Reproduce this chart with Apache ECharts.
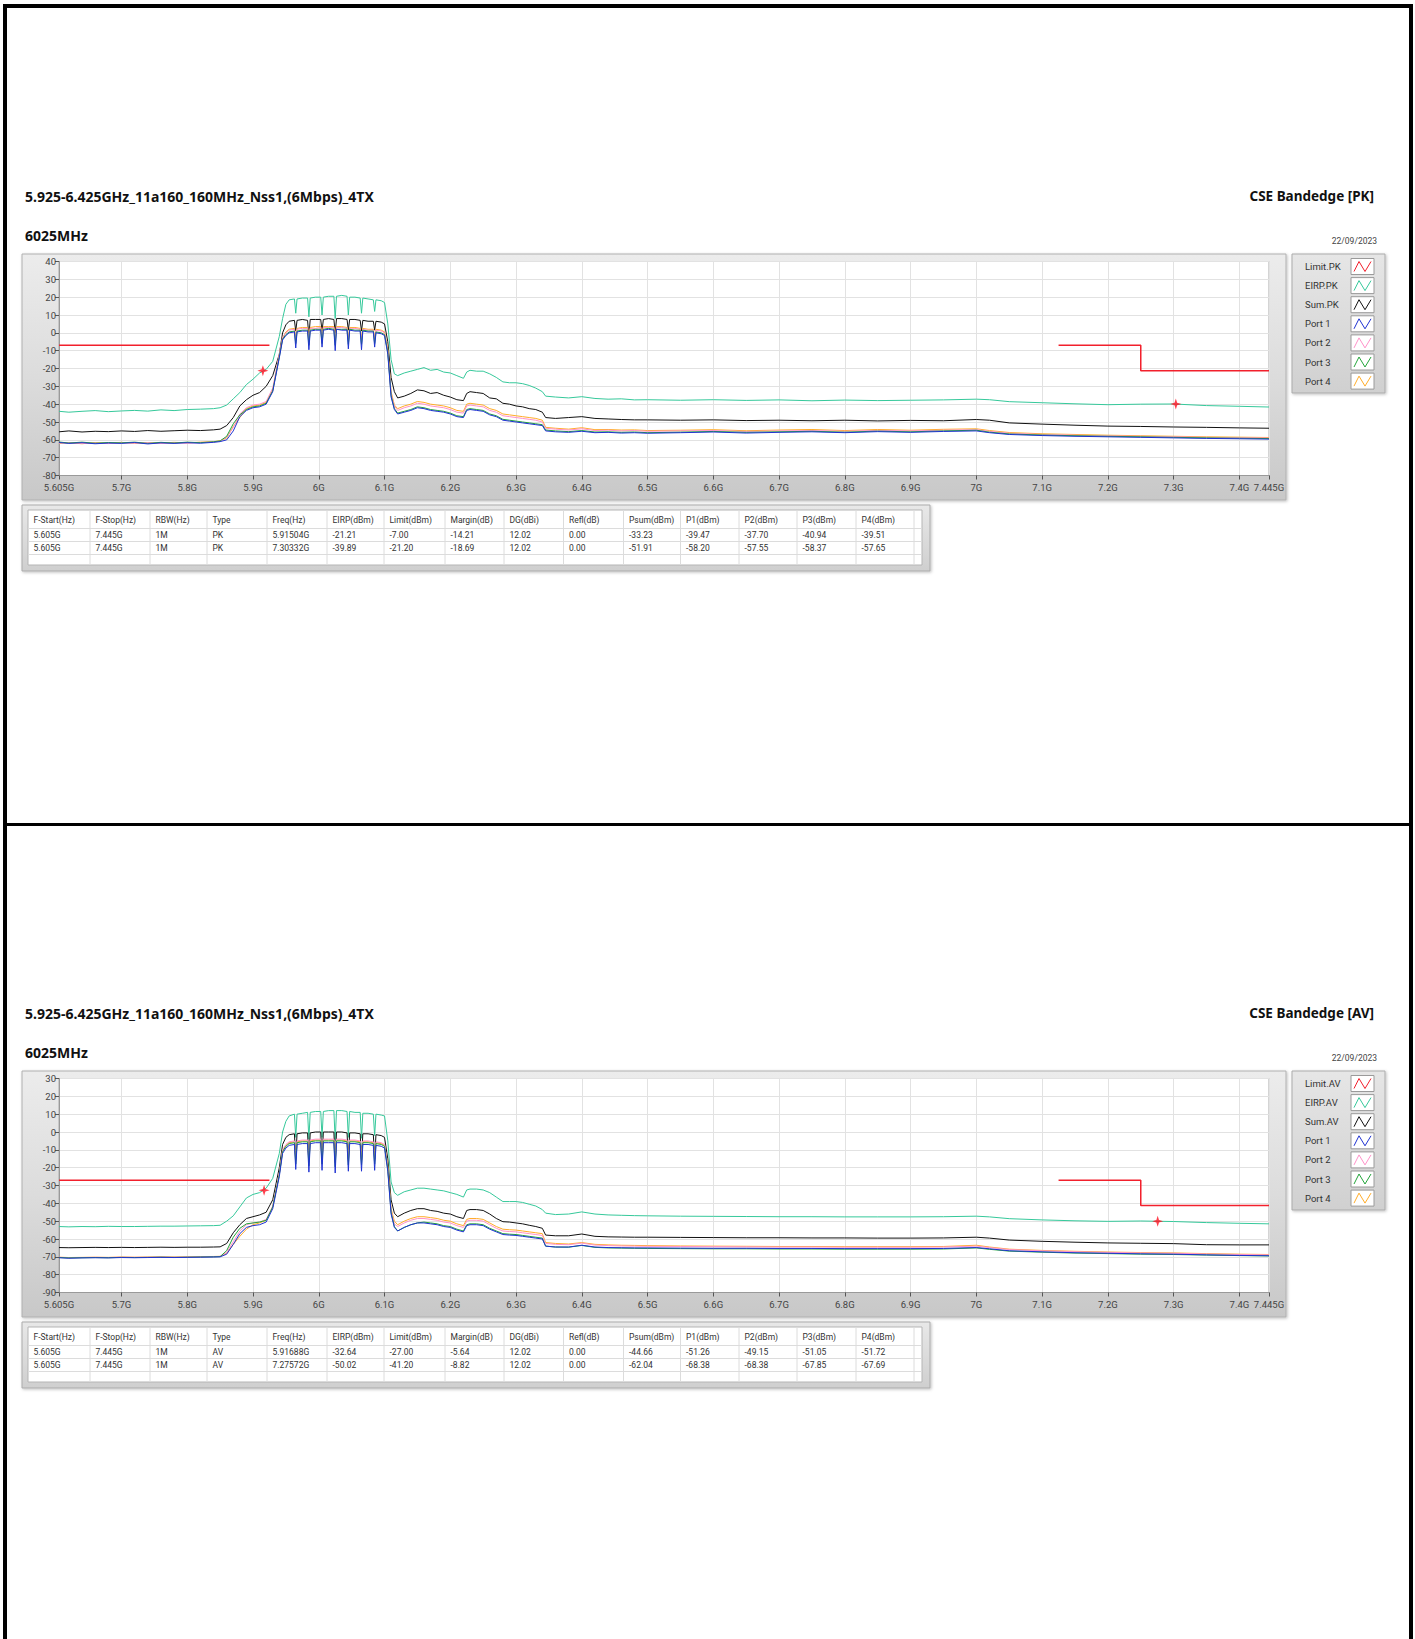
<!DOCTYPE html>
<html>
<head>
<meta charset="utf-8">
<title>CSE Bandedge</title>
<script src="https://cdn.jsdelivr.net/npm/echarts@6/dist/echarts.min.js"></script>
<style>
  html, body { margin: 0; padding: 0; background: #fff; }
  #main { width: 1415px; height: 1639px; }
</style>
</head>
<body>
<div id="main"></div>
<script>
// frequency grid (GHz), shared by every trace
var freq = [
  5.605, 5.62, 5.64, 5.66, 5.68, 5.70, 5.72, 5.74, 5.76, 5.78, 5.80, 5.82, 5.84, 5.85,
  5.86, 5.87, 5.88, 5.89, 5.90, 5.91, 5.92, 5.93, 5.94, 5.945,
  5.95, 5.955, 5.963, 5.965, 5.967, 5.975, 5.983, 5.985, 5.987, 5.995, 6.003, 6.005, 6.007, 6.015, 6.023, 6.025,
  6.027, 6.035, 6.043, 6.045, 6.047, 6.055, 6.063, 6.065, 6.067, 6.075, 6.083, 6.085, 6.087, 6.095, 6.10,
  6.105, 6.11, 6.115, 6.12,
  6.13, 6.14, 6.15, 6.16, 6.17, 6.18, 6.19, 6.20, 6.21, 6.22, 6.225, 6.23, 6.24, 6.25, 6.26, 6.27,
  6.28, 6.29, 6.30, 6.31, 6.32, 6.33, 6.34, 6.345, 6.36, 6.38, 6.40, 6.42, 6.44, 6.46, 6.48, 6.50,
  6.55, 6.60, 6.65, 6.70, 6.75, 6.80, 6.85, 6.90, 6.95, 7.00, 7.02, 7.05, 7.10, 7.15, 7.20, 7.25, 7.30, 7.35, 7.40, 7.445
];

// ---- PK panel (dBm) ----
var eirpPk = [
  -44, -44.5, -44, -43.6, -44.2, -43.8, -43.5, -43.9, -43.2, -43.6, -43, -42.8, -42.5, -42,
  -40.5, -37, -33.5, -29, -26, -22.5, -20.5, -16, -2, 8,
  16, 18.5, 19, 11, 19, 19.5, 19.5, 9, 19.5, 20, 20, 10, 20, 20.5, 20.5, 8,
  20.5, 21, 20.5, 10, 20, 20, 19.5, 11, 19.5, 19, 18.5, 12, 18.5, 18, 17,
  5, -15, -23, -24,
  -22.5, -21.5, -20.5, -19.5, -21, -20.5, -22, -22.5, -24, -25.5, -22, -21, -21.5, -21.5, -23, -25,
  -27.5, -28, -28, -28.5, -29.5, -31, -33, -35.5, -36, -36.5, -35.8, -36.8, -37.2, -37, -37.6, -37.5,
  -37.8, -37.5, -37.9, -37.6, -38.1, -37.7, -38, -37.8, -37.6, -37.2, -37.5, -38.6, -39.2, -39.8, -40.3, -40, -39.9, -40.8, -41.2, -41.6
];
var sumPk = [
  -55.5, -55, -55.6, -55.2, -55.4, -55, -55.3, -54.8, -55.2, -54.9, -54.6, -54.8, -54.4, -54,
  -52, -47.5, -41, -37.5, -35, -33.5, -30, -24, -12, 0,
  4.5, 6.5, 7, 1, 7, 7.5, 7, -2, 7.5, 7.5, 7.5, 1, 7.5, 8, 7.5, 0,
  8, 8, 7.5, 1.5, 7.5, 7.5, 7, 1, 7, 6.5, 6.5, 1.5, 6.5, 6, 5,
  -5, -25, -33, -36.5,
  -35.5, -34, -32, -32.5, -34, -33.5, -35, -36, -37.5, -38, -34, -33, -33.5, -34, -36.5, -37,
  -39.5, -40, -41, -41.5, -42.5, -43, -44.5, -47.5, -48, -47.5, -47, -48, -48.3, -48.6, -48.8, -48.8,
  -49, -48.8, -49.2, -49, -49.3, -49, -49.4, -49.1, -49.3, -48.6, -49, -50.5, -51.2, -51.8, -52.3, -52.5, -52.8, -53, -53.3, -53.5
];
var port1Pk = [
  -61.5, -62, -61.6, -62.2, -61.8, -62, -61.5, -62.3, -61.7, -62, -61.6, -61.9, -61.4, -61,
  -60, -55, -47, -43.5, -42, -41.5, -40, -33, -14, -4,
  -1.5, 0, 0.5, -8.5, 0.5, 1, 1, -9.5, 1, 1.5, 1.5, -8, 1.5, 2, 1.5, -10,
  2, 1.5, 1.5, -9, 1.5, 1, 1, -9.5, 1, 0.5, 0.5, -8, 0, -0.5, -1.5,
  -12, -36, -43, -45.5,
  -44.5, -43.5, -42, -42.5, -43.5, -44, -44.5, -45.5, -47, -47.5, -43.5, -43, -43.5, -44, -46, -47,
  -49, -49.5, -50, -50.5, -51, -51.5, -52, -55, -55.5, -55.8, -55.2, -56, -55.8, -56.2, -56, -56.3,
  -56, -55.6, -56.2, -55.8, -55.5, -56, -55.4, -55.8, -55.3, -55, -56, -57, -57.6, -58, -58.3, -58.6, -58.9, -59.2, -59.4, -59.6
];
var port2Pk = [
  -61.8, -61.5, -62, -61.7, -62.1, -61.6, -61.9, -61.5, -62, -61.7, -61.9, -61.5, -61.2, -60.8,
  -58.5, -53, -45.5, -42, -40.5, -40, -38.5, -31, -12, -2.5,
  0, 1.5, 2, -4, 2, 2.5, 2.5, -5, 2.5, 2.5, 3, -4, 3, 3, 3, -5,
  3, 3, 2.5, -4.5, 2.5, 2.5, 2, -4, 2, 1.5, 1.5, -3.5, 1.5, 1, 0,
  -10, -34, -41, -43.5,
  -42, -41, -39.5, -40, -41, -41.5, -42, -43, -44.5, -45, -41, -40.5, -41, -41.5, -43.5, -44.5,
  -46.5, -47, -47.5, -48, -48.5, -49, -50, -53.5, -54, -54.5, -53.8, -54.8, -54.6, -55, -54.8, -55.2,
  -55, -54.8, -55.3, -55, -54.8, -55.2, -54.7, -55, -54.6, -54.3, -55.2, -56.3, -57, -57.4, -57.8, -58, -58.3, -58.6, -58.8, -59
];
var port3Pk = [
  -61.2, -61.8, -61.3, -61.9, -61.5, -61.7, -61.3, -62, -61.4, -61.8, -61.3, -61.6, -61.1, -60.6,
  -58, -51, -46, -43, -41.5, -41, -39.5, -32.5, -13.5, -3.5,
  -1, 0.5, 1, -6, 1, 1.5, 1.5, -7, 1.5, 2, 2, -6, 2, 2.5, 2, -7,
  2, 2, 2, -6.5, 2, 1.5, 1.5, -6.5, 1.5, 1, 1, -6, 0.5, 0, -1,
  -11, -35, -42.5, -45,
  -44, -43, -41.5, -42, -43, -43.5, -44, -45, -46.5, -47, -43, -42.5, -43, -43.5, -45.5, -46.5,
  -48.5, -49, -49.5, -50, -50.5, -51, -51.5, -54.5, -55, -55.4, -54.8, -55.6, -55.5, -55.8, -55.6, -56,
  -55.7, -55.3, -55.8, -55.5, -55.2, -55.7, -55.1, -55.5, -55, -54.6, -55.7, -56.7, -57.3, -57.7, -58, -58.3, -58.6, -58.9, -59.1, -59.3
];
var port4Pk = [
  -62, -61.6, -62.2, -61.5, -61.9, -61.4, -62, -61.6, -61.8, -61.4, -61.7, -61.3, -61, -60.5,
  -59, -52.5, -47.5, -42.5, -41, -40.5, -39, -32, -12.5, -3,
  0.5, 2, 2.5, -3, 2.5, 3, 3, -4, 3, 3.5, 3.5, -3, 3.5, 3.5, 3.5, -4,
  3.5, 3.5, 3, -3.5, 3, 3, 2.5, -3, 2.5, 2, 2, -3, 2, 1.5, 0.5,
  -9, -33, -40.5, -42.5,
  -41, -40, -38.5, -39, -40, -40.5, -41, -42, -43.5, -44, -40, -39.5, -40, -40.5, -42.5, -43.5,
  -45.5, -46, -46.5, -47, -47.5, -48, -49, -53, -53.5, -54, -53.2, -54.3, -54.2, -54.5, -54.4, -54.8,
  -54.6, -54.3, -54.9, -54.5, -54.2, -54.8, -54.2, -54.6, -54.1, -53.8, -54.8, -55.9, -56.6, -57, -57.4, -57.7, -58, -58.3, -58.5, -58.7
];

// ---- AV panel (dBm) ----
var eirpAv = [
  -53, -53.2, -53, -53.1, -52.9, -53, -53, -52.9, -52.8, -52.8, -52.7, -52.6, -52.5, -52.3,
  -50, -47, -42, -37, -35, -34, -31.5, -26, -12, 0,
  6, 9, 10, -3, 10, 10.5, 11, -4, 11, 11.5, 11.5, -3, 11.5, 12, 12, -5,
  12, 12, 11.5, -3, 11.5, 11, 11, -3.5, 10.5, 10.5, 10, -2, 10, 9.5, 9,
  -5, -28, -34, -35.5,
  -33.5, -32.5, -31.5, -31.5, -32, -32.5, -33, -34, -35, -36.5, -32.5, -32, -32, -32.5, -34, -36.5,
  -39, -39, -39, -39.5, -40.5, -41.5, -43.5, -45.5, -46.3, -46, -44.8, -46, -46.5, -46.7, -46.9, -47,
  -47.2, -47.3, -47.4, -47.5, -47.5, -47.6, -47.6, -47.6, -47.5, -47.2, -47.6, -48.6, -49.3, -49.8, -50.1, -49.9, -50.2, -50.8, -51.2, -51.5
];
var sumAv = [
  -64.8, -64.9, -64.8, -64.7, -64.8, -64.7, -64.8, -64.7, -64.6, -64.7, -64.6, -64.6, -64.5, -64.4,
  -62.5, -56.5, -52, -48.5, -47.5, -46.5, -45, -38, -20, -7,
  -3, -1.5, -1, -15, -1, -0.5, -0.5, -16, -0.5, 0, 0, -15, 0, 0, 0, -17,
  0, 0, -0.5, -15, -0.5, -0.5, -1, -16, -1, -1, -1.5, -15, -1.5, -2, -3,
  -15, -38, -45.5, -47.5,
  -45.5, -44, -43, -43, -44, -44.5, -45.5, -46, -47.5, -48.5, -44, -43.5, -43.5, -44, -46, -48.5,
  -50.3, -50.5, -51, -51.5, -52.3, -53, -54, -57.8, -58.2, -58.2, -57.2, -58.5, -58.8, -58.9, -59, -59,
  -59.1, -59.2, -59.3, -59.3, -59.4, -59.4, -59.5, -59.5, -59.4, -59, -59.5, -60.6, -61.3, -61.8, -62.2, -62.4, -62.6, -63.2, -63.3, -63.3
];
var port1Av = [
  -70.5, -70.8, -70.6, -70.5, -70.6, -70.4, -70.5, -70.4, -70.3, -70.4, -70.3, -70.2, -70.1, -70,
  -68.5, -63, -57, -53.5, -52.5, -52, -50.5, -43, -25, -12,
  -9, -7.5, -7, -21, -7, -6.5, -6.5, -22.5, -6.5, -6, -6, -21.5, -6, -6, -6, -23,
  -6, -6, -6.5, -22, -6.5, -6.5, -7, -22, -7, -7, -7.5, -21.5, -7.5, -8, -9,
  -22, -46, -53.5, -55.5,
  -53.5, -52, -51, -51, -51.5, -52, -53, -53.5, -55, -56, -52.5, -52, -52, -52.5, -54.5, -56,
  -57.5, -57.8, -58, -58.5, -59, -59.5, -60, -64, -64.5, -64.5, -63.5, -64.5, -64.8, -64.9, -65, -65,
  -65.1, -65.2, -65.2, -65.3, -65.3, -65.4, -65.4, -65.4, -65.3, -64.8, -65.5, -66.6, -67.2, -67.7, -68, -68.3, -68.5, -68.9, -69.2, -69.4
];
var port2Av = [
  -70.3, -70.5, -70.4, -70.3, -70.4, -70.2, -70.3, -70.2, -70.1, -70.2, -70.1, -70, -69.9, -69.8,
  -67.5, -61.5, -55.5, -52, -51, -50.5, -49, -41.5, -23, -10,
  -7, -5.5, -5, -16, -5, -4.5, -4.5, -17, -4.5, -4, -4, -16, -4, -4, -4, -17.5,
  -4, -4, -4.5, -16.5, -4.5, -4.5, -5, -16.5, -5, -5, -5.5, -16, -5.5, -6, -7,
  -20, -44, -51.5, -53,
  -51, -49.5, -48.5, -48.5, -49, -49.5, -50.5, -51, -52.5, -53.5, -50, -49.5, -49.5, -50, -52, -54,
  -55.5, -55.8, -56, -56.5, -57, -57.5, -58, -62.5, -63, -63.2, -62.3, -63.4, -63.7, -63.9, -64, -64.1,
  -64.2, -64.3, -64.4, -64.5, -64.5, -64.6, -64.6, -64.6, -64.5, -64, -64.8, -65.9, -66.6, -67.1, -67.5, -67.8, -68, -68.4, -68.7, -68.9
];
var port3Av = [
  -70.4, -70.6, -70.5, -70.4, -70.5, -70.3, -70.4, -70.3, -70.2, -70.3, -70.2, -70.1, -70, -69.9,
  -66.5, -59, -54, -51.5, -51, -50.5, -49.5, -42, -24, -11,
  -8, -6.5, -6, -18, -6, -5.5, -5.5, -19, -5.5, -5, -5, -18, -5, -5, -5, -19.5,
  -5, -5, -5.5, -18.5, -5.5, -5.5, -6, -18.5, -6, -6, -6.5, -18, -6.5, -7, -8,
  -21, -45, -53, -55.5,
  -53.5, -52, -51, -50.5, -51, -51.5, -52.5, -53, -54.5, -55.5, -52, -51.5, -51.5, -52, -54, -55.5,
  -57, -57.3, -57.5, -58, -58.5, -59, -59.5, -64, -64.5, -64.6, -63.6, -64.7, -65, -65.1, -65.2, -65.3,
  -65.4, -65.5, -65.5, -65.6, -65.6, -65.7, -65.7, -65.7, -65.6, -65, -65.8, -66.8, -67.4, -67.9, -68.2, -68.5, -68.7, -69, -69.3, -69.5
];
var port4Av = [
  -70.2, -70.4, -70.3, -70.2, -70.3, -70.1, -70.2, -70.1, -70, -70.1, -70, -69.9, -69.8, -69.7,
  -68, -63, -58.5, -54.5, -52, -51, -49.5, -42, -23.5, -10.5,
  -7.5, -6, -5.5, -15.5, -5.5, -5, -5, -16.5, -5, -4.5, -4.5, -15.5, -4.5, -4.5, -4.5, -17,
  -4.5, -4.5, -5, -16, -5, -5, -5.5, -16, -5.5, -5.5, -6, -15.5, -6, -6.5, -7.5,
  -19, -43, -50, -52,
  -50, -48.5, -47.5, -47.5, -48, -48.5, -49.5, -50, -51.5, -52.5, -49, -48.5, -48.5, -49, -51, -53,
  -54.5, -54.8, -55, -55.5, -56, -56.5, -57, -62, -62.5, -62.8, -62, -63, -63.3, -63.5, -63.6, -63.7,
  -63.9, -64, -64.1, -64.2, -64.2, -64.3, -64.3, -64.3, -64.2, -63.5, -64.5, -65.7, -66.4, -66.9, -67.3, -67.6, -67.8, -68.2, -68.5, -68.7
];

// limit lines ('-' = gap)
var limitFreq = [5.605, 5.925, 6.5, 7.125, 7.25, 7.25, 7.445];
var limitPk = [-7, -7, '-', -7, -7, -21.2, -21.2];
var limitAv = [-27, -27, '-', -27, -27, -41.2, -41.2];

// worst-case markers [freq GHz, dBm]
var markersPk = [[5.91504, -21.21], [7.30332, -39.89]];
var markersAv = [[5.91688, -32.64], [7.27572, -50.02]];

var xTicks = [5.605, 5.7, 5.8, 5.9, 6.0, 6.1, 6.2, 6.3, 6.4, 6.5, 6.6, 6.7, 6.8, 6.9, 7.0, 7.1, 7.2, 7.3, 7.4, 7.445];

var tableHead = ['F-Start(Hz)', 'F-Stop(Hz)', 'RBW(Hz)', 'Type', 'Freq(Hz)', 'EIRP(dBm)', 'Limit(dBm)', 'Margin(dB)',
  'DG(dBi)', 'Refl(dB)', 'Psum(dBm)', 'P1(dBm)', 'P2(dBm)', 'P3(dBm)', 'P4(dBm)'];
var pkRows = [
  ['5.605G', '7.445G', '1M', 'PK', '5.91504G', '-21.21', '-7.00', '-14.21', '12.02', '0.00', '-33.23', '-39.47', '-37.70', '-40.94', '-39.51'],
  ['5.605G', '7.445G', '1M', 'PK', '7.30332G', '-39.89', '-21.20', '-18.69', '12.02', '0.00', '-51.91', '-58.20', '-57.55', '-58.37', '-57.65']
];
var avRows = [
  ['5.605G', '7.445G', '1M', 'AV', '5.91688G', '-32.64', '-27.00', '-5.64', '12.02', '0.00', '-44.66', '-51.26', '-49.15', '-51.05', '-51.72'],
  ['5.605G', '7.445G', '1M', 'AV', '7.27572G', '-50.02', '-41.20', '-8.82', '12.02', '0.00', '-62.04', '-68.38', '-68.38', '-67.85', '-67.69']
];

var colors = {
  limit: '#f2202c', eirp: '#36c99b', sum: '#111111',
  p1: '#1f32d2', p2: '#ff92c9', p3: '#23a53a', p4: '#ffad2a'
};
var FONT = 'Roboto, "Noto Sans", sans-serif';

function pairs(xs, ys, name) {
  if (xs.length !== ys.length) throw new Error(name + ' length ' + ys.length + ' != ' + xs.length);
  return xs.map(function (x, i) { return [x, ys[i]]; });
}

var chart = echarts.init(document.getElementById('main'), null, { renderer: 'svg', width: 1415, height: 1639 });

var DY = 817; // vertical offset of the second panel
var panels = [
  { tag: 'PK', ymin: -80, ymax: 40, limit: limitPk, markers: markersPk, rows: pkRows,
    traces: [['eirp', eirpPk], ['sum', sumPk], ['p4', port4Pk], ['p2', port2Pk], ['p3', port3Pk], ['p1', port1Pk]] },
  { tag: 'AV', ymin: -90, ymax: 30, limit: limitAv, markers: markersAv, rows: avRows,
    traces: [['eirp', eirpAv], ['sum', sumAv], ['p4', port4Av], ['p2', port2Av], ['p3', port3Av], ['p1', port1Av]] }
];

var grids = [], xAxes = [], yAxes = [], series = [], graphics = [];

// page border and divider
graphics.push({ type: 'rect', z: 10, shape: { x: 5, y: 6, width: 1406, height: 1650 },
  style: { fill: null, stroke: '#000', lineWidth: 4 } });
graphics.push({ type: 'line', z: 10, shape: { x1: 5, y1: 824.5, x2: 1411, y2: 824.5 },
  style: { stroke: '#000', lineWidth: 3 } });

var colX = [28, 90, 150, 207, 267, 327, 384, 445, 504, 563.5, 623.5, 680.5, 739, 797, 856, 914];

panels.forEach(function (p, k) {
  var dy = k * DY;

  grids.push({ left: 59, top: 261.5 + dy, width: 1210, height: 214, show: true,
    backgroundColor: '#ffffff', borderColor: '#a9a9a9', borderWidth: 1, outerBoundsMode: 'none' });

  xAxes.push({
    type: 'value', gridIndex: k, min: 5.605, max: 7.445,
    axisLine: { show: true, onZero: false, lineStyle: { color: '#9a9a9a' } },
    axisTick: { show: true, length: 4, customValues: xTicks, lineStyle: { color: '#555' } },
    axisLabel: { customValues: xTicks, margin: 7, fontSize: 9.5, fontFamily: FONT, color: '#444',
      formatter: function (v) { return parseFloat(v.toFixed(3)) + 'G'; } },
    splitLine: { show: true, lineStyle: { color: '#e2e2e2', width: 1 } }
  });
  yAxes.push({
    type: 'value', gridIndex: k, min: p.ymin, max: p.ymax, interval: 10,
    axisLine: { show: true, lineStyle: { color: '#9a9a9a' } },
    axisTick: { show: true, length: 4, lineStyle: { color: '#555' } },
    axisLabel: { margin: 3, fontSize: 9.5, fontFamily: FONT, color: '#444' },
    splitLine: { show: true, lineStyle: { color: '#e2e2e2', width: 1 } }
  });

  series.push({ type: 'line', name: 'Limit.' + p.tag, xAxisIndex: k, yAxisIndex: k, z: 3,
    data: pairs(limitFreq, p.limit, 'limit' + p.tag), showSymbol: false, connectNulls: false,
    lineStyle: { color: colors.limit, width: 1.5 }, itemStyle: { color: colors.limit } });
  p.traces.forEach(function (t) {
    series.push({ type: 'line', name: t[0] + p.tag, xAxisIndex: k, yAxisIndex: k, z: 2,
      data: pairs(freq, t[1], t[0] + p.tag), showSymbol: false, symbol: 'none',
      lineStyle: { color: colors[t[0]], width: 1 }, itemStyle: { color: colors[t[0]] } });
  });
  series.push({ type: 'scatter', name: 'marker' + p.tag, xAxisIndex: k, yAxisIndex: k, z: 5,
    data: p.markers, symbol: 'path://M5,0 L6.2,3.8 L10,5 L6.2,6.2 L5,10 L3.8,6.2 L0,5 L3.8,3.8 Z',
    symbolSize: 11, itemStyle: { color: '#ff1020' } });

  // chart frame behind the grid
  graphics.push({ type: 'rect', z: -5, shape: { x: 22, y: 254 + dy, width: 1264, height: 246 },
    style: { fill: new echarts.graphic.LinearGradient(0, 0, 0, 1, [
      { offset: 0, color: '#ececec' }, { offset: 0.5, color: '#dcdcdc' }, { offset: 1, color: '#c8c8c8' }]),
      stroke: '#b0b0b0', lineWidth: 1, shadowBlur: 3, shadowColor: 'rgba(0,0,0,0.25)', shadowOffsetX: 1, shadowOffsetY: 1 } });

  // titles
  graphics.push({ type: 'text', z: 4, x: 25, y: 196 + dy, style: { text: '5.925-6.425GHz_11a160_160MHz_Nss1,(6Mbps)_4TX',
    font: 'bold 14px "Noto Sans", sans-serif', fill: '#111', align: 'left', verticalAlign: 'middle' } });
  graphics.push({ type: 'text', z: 4, x: 1374, y: 196 + dy, style: { text: 'CSE Bandedge [' + p.tag + ']',
    font: 'bold 13.5px "Noto Sans", sans-serif', fill: '#111', align: 'right', verticalAlign: 'middle' } });
  graphics.push({ type: 'text', z: 4, x: 25, y: 235 + dy, style: { text: '6025MHz',
    font: 'bold 14px "Noto Sans", sans-serif', fill: '#111', align: 'left', verticalAlign: 'middle' } });
  graphics.push({ type: 'text', z: 4, x: 1377, y: 241 + dy, style: { text: '22/09/2023',
    font: '8.5px ' + FONT, fill: '#444', align: 'right', verticalAlign: 'middle' } });

  // legend box
  graphics.push({ type: 'rect', z: 1, shape: { x: 1292, y: 254 + dy, width: 93, height: 139 },
    style: { fill: new echarts.graphic.LinearGradient(0, 0, 0, 1, [
      { offset: 0, color: '#e6e6e6' }, { offset: 1, color: '#d0d0d0' }]),
      stroke: '#ababab', lineWidth: 1, shadowBlur: 3, shadowColor: 'rgba(0,0,0,0.25)', shadowOffsetX: 1, shadowOffsetY: 1 } });
  var legendItems = [['Limit.' + p.tag, 'limit'], ['EIRP.' + p.tag, 'eirp'], ['Sum.' + p.tag, 'sum'],
    ['Port 1', 'p1'], ['Port 2', 'p2'], ['Port 3', 'p3'], ['Port 4', 'p4']];
  legendItems.forEach(function (it, i) {
    var cy = 266.5 + i * 19.1 + dy;
    graphics.push({ type: 'text', z: 4, x: 1305, y: cy, style: { text: it[0], font: '9.5px ' + FONT,
      fill: '#333', align: 'left', verticalAlign: 'middle' } });
    graphics.push({ type: 'rect', z: 2, shape: { x: 1351, y: cy - 8, width: 23, height: 16 },
      style: { fill: '#fff', stroke: '#9a9a9a', lineWidth: 1 } });
    graphics.push({ type: 'polyline', z: 3, shape: { points: [[1354, cy + 5], [1359, cy - 5], [1365, cy + 5], [1371, cy - 5]] },
      style: { stroke: colors[it[1]], fill: null, lineWidth: 1 } });
  });

  // results table
  graphics.push({ type: 'rect', z: 1, shape: { x: 22, y: 505 + dy, width: 908, height: 66 },
    style: { fill: new echarts.graphic.LinearGradient(0, 0, 0, 1, [
      { offset: 0, color: '#e8e8e8' }, { offset: 1, color: '#cfcfcf' }]),
      stroke: '#ababab', lineWidth: 1, shadowBlur: 3, shadowColor: 'rgba(0,0,0,0.25)', shadowOffsetX: 1, shadowOffsetY: 1 } });
  graphics.push({ type: 'rect', z: 2, shape: { x: 28, y: 510 + dy, width: 894, height: 55 },
    style: { fill: '#fff', stroke: '#b5b5b5', lineWidth: 1 } });
  [528.5, 541.5, 554.5].forEach(function (ly) {
    graphics.push({ type: 'line', z: 3, shape: { x1: 28, y1: ly + dy, x2: 922, y2: ly + dy },
      style: { stroke: '#dcdcdc', lineWidth: 1 } });
  });
  colX.slice(1).forEach(function (lx) {
    graphics.push({ type: 'line', z: 3, shape: { x1: lx, y1: 510 + dy, x2: lx, y2: 565 + dy },
      style: { stroke: '#dcdcdc', lineWidth: 1 } });
  });
  var rowsY = [520, 535, 548];
  [tableHead].concat(p.rows).forEach(function (row, r) {
    row.forEach(function (cell, c) {
      graphics.push({ type: 'text', z: 4, x: colX[c] + 5.5, y: rowsY[r] + dy, style: { text: cell,
        font: '8.5px ' + FONT, fill: '#333', align: 'left', verticalAlign: 'middle' } });
    });
  });
});

chart.setOption({
  animation: false,
  backgroundColor: '#ffffff',
  grid: grids,
  xAxis: xAxes,
  yAxis: yAxes,
  series: series,
  graphic: { elements: graphics }
});
</script>
</body>
</html>
